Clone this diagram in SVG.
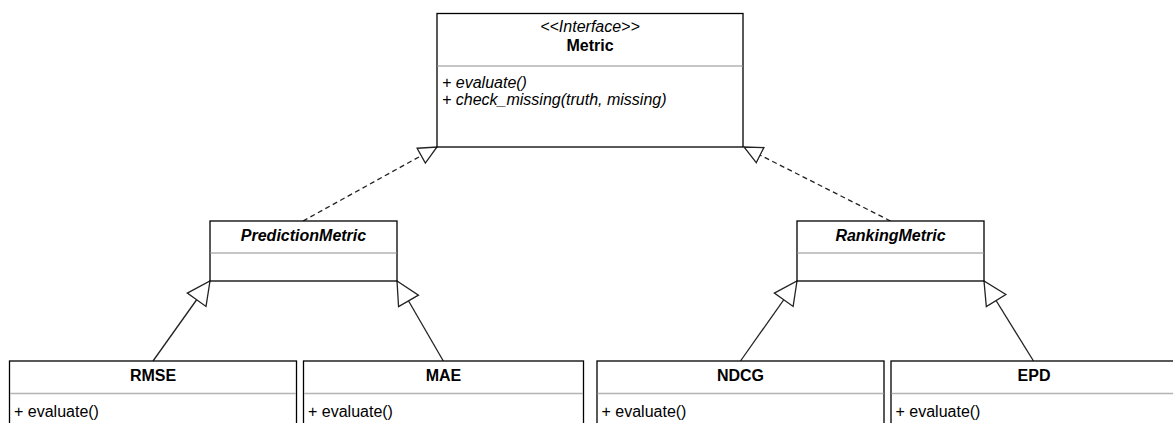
<svg xmlns="http://www.w3.org/2000/svg" width="1173" height="423" viewBox="0 0 1173 423">
<style>
.box{fill:#fff;stroke:#000;stroke-width:1.3}
.div{stroke:#b3b3b3;stroke-width:1.3;fill:none}
text{font-family:"Liberation Sans",Arial,sans-serif;font-size:16px;fill:#000}
.t{font-weight:bold;text-anchor:middle}
.ti{font-weight:bold;font-style:italic;text-anchor:middle}
.st{font-style:italic;text-anchor:middle}
.m{font-style:italic}
.dash{fill:none;stroke:#222;stroke-width:1.3;stroke-dasharray:5 3.5}
.solid{fill:none;stroke:#222;stroke-width:1.3}
</style>
<defs>
<marker id="realize" markerUnits="userSpaceOnUse" markerWidth="22" markerHeight="22" refX="19" refY="10" orient="auto" viewBox="0 0 22 20">
<path d="M1,1.5 L19,10 L1,18.5 Z" fill="#fff" stroke="#222" stroke-width="1.3"/>
</marker>
<marker id="inherit" markerUnits="userSpaceOnUse" markerWidth="27" markerHeight="27" refX="24" refY="12.5" orient="auto" viewBox="0 0 27 25">
<path d="M1,1 L24,12.5 L1,24 Z" fill="#fff" stroke="#222" stroke-width="1.3"/>
</marker>
</defs>
<g id="connectors">
<path class="dash" d="M303,221 L437,147" marker-end="url(#realize)"/>
<path class="dash" d="M890.5,221 L744,147" marker-end="url(#realize)"/>
<path class="solid" d="M153,361 L210,281" marker-end="url(#inherit)"/>
<path class="solid" d="M443.3,361 L397,281" marker-end="url(#inherit)"/>
<path class="solid" d="M740.5,361 L797,281" marker-end="url(#inherit)"/>
<path class="solid" d="M1033.5,361 L984,281" marker-end="url(#inherit)"/>
</g>
<g id="Metric">
<rect class="box" x="437" y="13.5" width="306" height="133.5"/>
<line class="div" x1="437.6" y1="66" x2="742.4" y2="66"/>
<text class="st" x="590" y="32">&lt;&lt;Interface&gt;&gt;</text>
<text class="t" x="590" y="51">Metric</text>
<text class="m" x="442" y="88">+ evaluate()</text>
<text class="m" x="442" y="105">+ check_missing(truth, missing)</text>
</g>
<g id="PredictionMetric">
<rect class="box" x="210" y="221" width="187" height="60"/>
<line class="div" x1="210.6" y1="253" x2="396.4" y2="253"/>
<text class="ti" x="303.5" y="241">PredictionMetric</text>
</g>
<g id="RankingMetric">
<rect class="box" x="797" y="221" width="187" height="60"/>
<line class="div" x1="797.6" y1="253" x2="983.4" y2="253"/>
<text class="ti" x="890.5" y="241">RankingMetric</text>
</g>
<g id="RMSE">
<rect class="box" x="9.5" y="361" width="287" height="80"/>
<line class="div" x1="10.1" y1="393.5" x2="295.9" y2="393.5"/>
<text class="t" x="153" y="381">RMSE</text>
<text x="14" y="416.5">+ evaluate()</text>
</g>
<g id="MAE">
<rect class="box" x="303.5" y="361" width="280" height="80"/>
<line class="div" x1="304.1" y1="393.5" x2="582.9" y2="393.5"/>
<text class="t" x="443.5" y="381">MAE</text>
<text x="308" y="416.5">+ evaluate()</text>
</g>
<g id="NDCG">
<rect class="box" x="597" y="361" width="287" height="80"/>
<line class="div" x1="597.6" y1="393.5" x2="883.4" y2="393.5"/>
<text class="t" x="740.5" y="381">NDCG</text>
<text x="601.5" y="416.5">+ evaluate()</text>
</g>
<g id="EPD">
<rect class="box" x="891" y="361" width="286" height="80"/>
<line class="div" x1="891.6" y1="393.5" x2="1176" y2="393.5"/>
<text class="t" x="1034" y="381">EPD</text>
<text x="895.5" y="416.5">+ evaluate()</text>
</g>
</svg>
